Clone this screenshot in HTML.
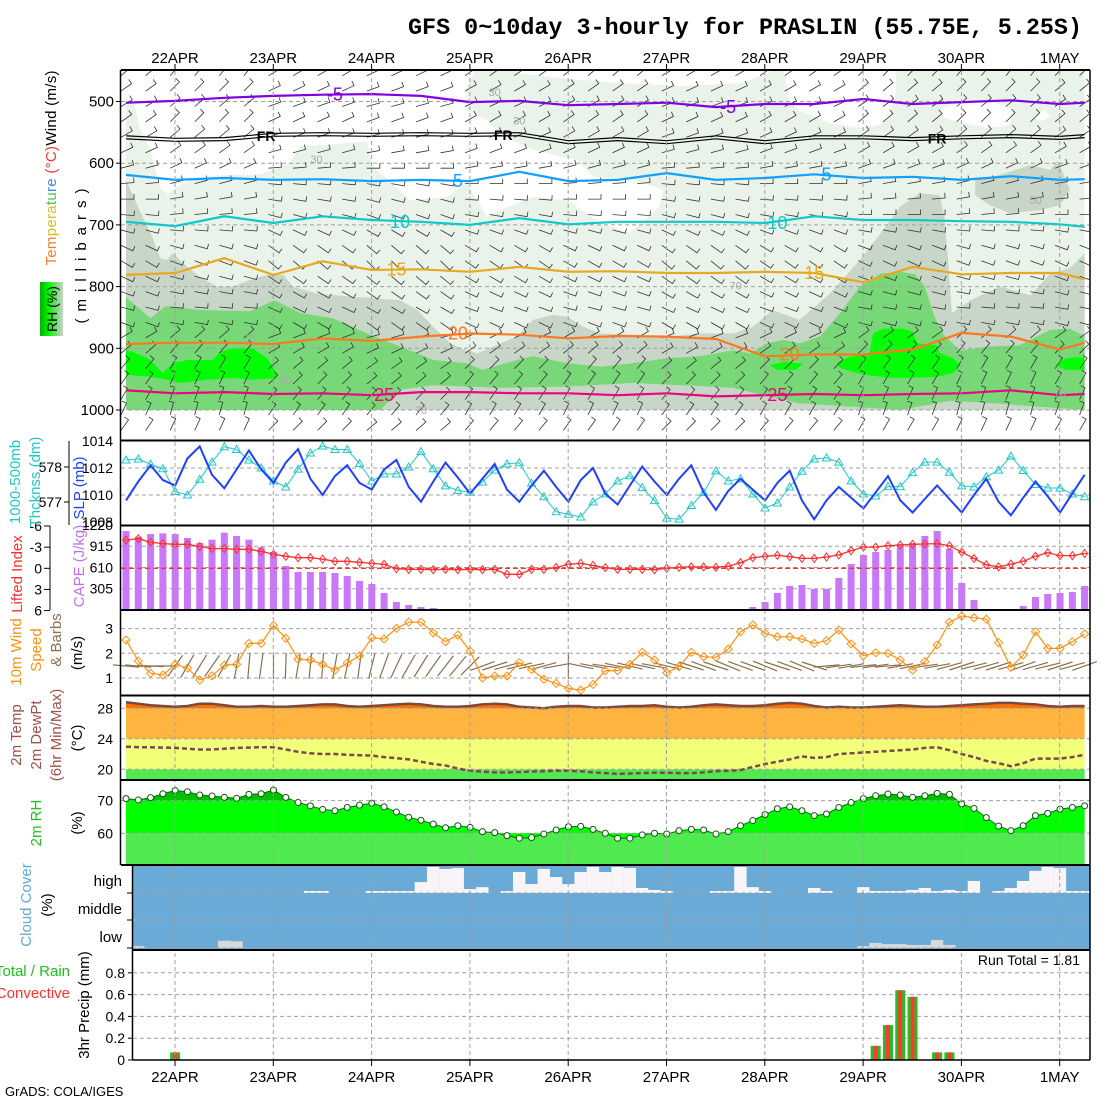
<!DOCTYPE html>
<html><head><meta charset="utf-8"><style>
html,body{margin:0;padding:0;background:#fff}
svg{display:block;font-family:"Liberation Sans",sans-serif}
</style></head><body>
<svg id="chart" width="1100" height="1100" viewBox="0 0 1100 1100" xmlns="http://www.w3.org/2000/svg">
<rect x="0" y="0" width="1100" height="1100" fill="#fff"/>
<defs><linearGradient id="rhg" x1="0" x2="1" y1="0" y2="0"><stop offset="0" stop-color="#00b000"/><stop offset="0.4" stop-color="#00ff00"/><stop offset="0.7" stop-color="#78d878"/><stop offset="1" stop-color="#c8d6c8"/></linearGradient>
<clipPath id="topclip"><rect x="121" y="71" width="968" height="368"/></clipPath>
<clipPath id="rh70"><rect x="120" y="780" width="970" height="20.6"/></clipPath></defs>
<text x="408" y="34" font-family="Liberation Mono, monospace" font-weight="bold" font-size="23" textLength="674" lengthAdjust="spacingAndGlyphs">GFS 0~10day 3-hourly for PRASLIN (55.75E, 5.25S)</text>
<g id="layers"></g>
<g id="labels" font-size="15">
 <text transform="translate(56,168) rotate(-90)" text-anchor="middle" textLength="195" lengthAdjust="spacing"><tspan fill="#f08030">Tem</tspan><tspan fill="#d8c020">pera</tspan><tspan fill="#50c050">tu</tspan><tspan fill="#4080ff">re</tspan><tspan fill="#ff3030"> (°C)</tspan><tspan fill="#000">Wind (m/s)</tspan></text>
 <text transform="translate(86,256) rotate(-90)" text-anchor="middle" textLength="135" lengthAdjust="spacing">(millibars)</text>
 <rect x="40" y="282" width="23" height="54" fill="url(#rhg)"/>
 <text transform="translate(57,309) rotate(-90)" text-anchor="middle" font-size="14">RH (%)</text>
 <text transform="translate(20,482) rotate(-90)" text-anchor="middle" fill="#20c8c8">1000-500mb</text>
 <text transform="translate(40,482) rotate(-90)" text-anchor="middle" fill="#20c8c8">Thcknss (dm)</text>
 <text transform="translate(84,488) rotate(-90)" text-anchor="middle" fill="#2040ff">SLP (mb)</text>
 <text transform="translate(22,574) rotate(-90)" text-anchor="middle" fill="#ff3030">Lifted Index</text>
 <text transform="translate(84,566) rotate(-90)" text-anchor="middle" fill="#c070f0">CAPE (J/kg)</text>
 <text transform="translate(21,652) rotate(-90)" text-anchor="middle" fill="#ff9010">10m Wind</text>
 <text transform="translate(41,650) rotate(-90)" text-anchor="middle" fill="#ff9010">Speed</text>
 <text transform="translate(61,640) rotate(-90)" text-anchor="middle" fill="#8a7050">&amp; Barbs</text>
 <text transform="translate(82,653) rotate(-90)" text-anchor="middle">(m/s)</text>
 <text transform="translate(21,735) rotate(-90)" text-anchor="middle" fill="#a05048">2m Temp</text>
 <text transform="translate(41,735) rotate(-90)" text-anchor="middle" fill="#a05048">2m DewPt</text>
 <text transform="translate(61,735) rotate(-90)" text-anchor="middle" fill="#a05048">(6hr Min/Max)</text>
 <text transform="translate(82,738) rotate(-90)" text-anchor="middle">(°C)</text>
 <text transform="translate(41,823) rotate(-90)" text-anchor="middle" fill="#20c020">2m RH</text>
 <text transform="translate(82,823) rotate(-90)" text-anchor="middle">(%)</text>
 <text transform="translate(31,905) rotate(-90)" text-anchor="middle" fill="#60a8d8">Cloud Cover</text>
 <text transform="translate(52,905) rotate(-90)" text-anchor="middle">(%)</text>
 <text x="122" y="886" text-anchor="end">high</text>
 <text x="122" y="914" text-anchor="end">middle</text>
 <text x="122" y="942" text-anchor="end">low</text>
 <text x="70" y="976" text-anchor="end" fill="#20c020">Total / Rain</text>
 <text x="70" y="998" text-anchor="end" fill="#ff3030">Convective</text>
 <text transform="translate(89,1005) rotate(-90)" text-anchor="middle">3hr Precip (mm)</text>
 <text x="1080" y="965" text-anchor="end" font-size="14">Run Total = 1.81</text>
 <text x="5" y="1096" font-size="13">GrADS: COLA/IGES</text>
</g>
</svg>
<script>
const dates=['22APR','23APR','24APR','25APR','26APR','27APR','28APR','29APR','30APR','1MAY'];
const slp=[1009.6,1011,1012.2,1011.1,1010.7,1012.7,1013.6,1011.5,1010.5,1011.9,1013.3,1011.9,1010.9,1012.4,1013.4,1011.2,1010.0,1011.4,1012.2,1010.9,1010.4,1011.9,1012.6,1010.6,1009.5,1011,1012.4,1011.3,1010.1,1011.2,1012.3,1010.4,1009.5,1010.7,1011.8,1010.6,1009.5,1011.1,1012,1010.1,1009.3,1010.7,1012.1,1011,1010.0,1011.2,1012.2,1010.2,1008.9,1010.3,1011.2,1010.4,1009.6,1010.9,1011.8,1009.6,1008.2,1009.6,1010.6,1009.8,1009.0,1010.2,1011.4,1009.6,1008.7,1009.7,1010.7,1009.7,1008.7,1010,1011.2,1009.5,1008.5,1009.8,1011,1009.9,1008.7,1010.1,1011.5];
const thick=[578.2,578.23,578.08,577.95,577.3,577.2,577.65,578.14,578.58,578.5,578.2,577.97,577.6,577.43,577.94,578.4,578.6,578.5,578.5,578.1,577.6,577.8,577.8,578.0,578.44,577.95,577.46,577.33,577.28,577.57,577.91,578.09,578.12,577.54,577.15,576.72,576.65,576.57,577.0,577.23,577.6,577.75,577.41,577.04,576.54,576.51,576.9,577.27,577.89,577.6,577.66,577.23,576.83,576.97,577.43,577.88,578.23,578.26,578.14,577.6,577.23,577.17,577.44,577.44,577.84,578.14,578.14,577.85,577.46,577.43,577.72,577.91,578.31,577.9,577.5,577.4,577.4,577.23,577.15];
const cape=[1133,1052,1090,1100,1090,1033,961,1009,1109,1062,1009,900,832,631,545,545,545,531,488,416,373,244,115,72,43,29,0,0,0,0,0,0,0,0,0,0,5,5,0,0,0,0,0,0,0,0,0,0,0,0,0,43,115,244,344,359,301,301,459,660,789,832,861,947,961,1062,1133,875,387,143,0,0,0,57,187,230,244,258,344];
const liftedIndex=[-4.0,-4.2,-3.7,-3.5,-3.4,-3.4,-3.1,-2.8,-2.8,-2.7,-2.7,-2.4,-2.0,-1.7,-1.5,-1.5,-1.3,-1.0,-1.0,-0.85,-0.7,-0.57,0.05,0.15,0.15,0.2,0.15,0.2,0.15,0.2,0.15,0.85,0.85,0.15,0.15,-0.1,-0.57,-0.7,-0.4,-0.1,0.15,0.15,0.15,0.2,0,-0.15,-0.2,-0.2,-0.15,-0.3,-0.8,-1.5,-1.7,-1.85,-1.65,-1.4,-1.4,-1.6,-1.9,-2.5,-3.0,-3.0,-3.2,-3.3,-3.4,-3.45,-3.5,-3.2,-2.3,-1.4,-0.5,-0.2,-0.6,-1.0,-1.7,-2.2,-1.8,-1.8,-2.1];
const windSpeed=[2.54,1.69,1.19,1.12,1.55,1.4,0.92,1.09,1.52,1.55,2.4,2.4,3.12,2.61,1.76,1.73,1.55,1.32,1.6,1.9,2.63,2.58,3.01,3.26,3.26,2.83,2.47,2.74,2.09,1.0,1.08,1.08,1.62,1.35,0.95,0.78,0.58,0.51,0.74,1.3,1.3,1.55,2.04,1.73,1.21,1.46,2.04,1.86,1.84,2.17,2.87,3.15,2.81,2.67,2.67,2.58,2.4,2.51,2.94,2.38,1.9,2.02,2.0,1.73,1.32,1.66,2.34,3.26,3.51,3.44,3.38,2.43,1.43,1.93,2.87,2.2,2.2,2.47,2.78];
const windAngle=[5,5,3,0,-55,-60,-58,-55,-60,-80,-85,-82,-90,-88,-80,-84,-86,-80,-78,-82,-76,-70,-65,-60,-58,-55,-52,-50,-45,-20,-18,-15,-14,-12,-15,-10,-90,12,10,8,12,14,12,10,14,16,18,20,18,22,20,20,22,18,20,22,18,-5,-8,-10,-6,-8,-5,-10,-12,-8,-10,-15,-18,-14,-16,-18,-15,-20,-16,-14,-18,-15,-20];
const tmax=[28.8,28.6,28.4,28.3,28.2,28.3,28.6,28.6,28.4,28.2,28.2,28.3,28.2,28.2,28.3,28.4,28.5,28.5,28.3,28.2,28.3,28.4,28.5,28.6,28.5,28.3,28.2,28.2,28.3,28.5,28.6,28.5,28.2,28.1,28.0,28.2,28.3,28.3,28.1,28.1,28.2,28.3,28.3,28.4,28.2,28.1,28.2,28.4,28.5,28.4,28.3,28.3,28.4,28.6,28.7,28.6,28.3,28.1,28.2,28.1,28.1,28.2,28.3,28.4,28.3,28.2,28.2,28.3,28.4,28.5,28.6,28.7,28.7,28.6,28.5,28.3,28.2,28.3,28.3];
const dewpt=[22.96,22.9,22.9,22.85,22.8,22.7,22.6,22.6,22.7,22.8,22.85,22.9,22.9,22.6,22.3,22.1,22.0,22.0,21.9,21.85,21.8,21.6,21.45,21.3,21.0,20.7,20.5,20.1,19.8,19.7,19.6,19.6,19.65,19.7,19.75,19.8,19.8,19.75,19.6,19.5,19.4,19.45,19.5,19.55,19.55,19.5,19.5,19.6,19.75,19.8,19.9,20.3,20.7,21.0,21.3,21.7,21.5,21.6,22.0,22.1,22.2,22.3,22.4,22.5,22.6,22.8,22.9,22.5,22.0,21.6,21.1,20.8,20.4,20.8,21.4,21.4,21.4,21.6,21.9];
const rh2m=[70.6,70.2,70.9,72.1,73.1,72.7,71.7,71.4,71.0,70.7,71.9,72.1,73.2,71.0,69.4,68.4,67.3,66.9,67.9,68.6,69.2,68.1,66.5,64.9,64.0,62.8,61.7,62.3,61.8,60.5,60.2,59.3,58.5,58.7,59.8,61.0,62.0,62.1,61.2,60.0,58.5,58.5,59.5,60.0,59.8,60.8,61.2,61.0,59.8,60.5,62.3,63.9,65.7,67.5,68.1,66.9,65.4,65.9,67.9,69.4,70.6,71.5,72.0,71.7,71.0,71.5,72.2,71.9,69.0,67.6,64.8,62.2,60.8,62.3,65.4,66.1,67.4,67.9,68.4];
const highClear=[0,0,0,0,0,0,0,0,0,0,0,0,0,0,7,7,0,0,0,7,7,7,7,39,93,86,89,14,21,0,7,75,32,86,57,32,75,93,75,93,89,18,11,7,0,0,0,7,7,93,21,7,0,0,0,18,7,0,0,21,7,7,7,11,18,7,11,7,43,0,7,18,43,79,93,89,7,7];
const lowCloud=[7,0,0,0,0,0,0,26,24,0,0,0,0,0,0,0,0,0,0,0,0,0,0,0,0,0,0,0,0,0,0,0,0,0,0,0,0,0,0,0,0,0,0,0,0,0,0,0,0,0,0,0,0,0,0,0,0,0,0,7,18,14,14,11,11,29,11,0,0,0,0,0,0,0,0,0,0,0];
const precipTotal=[0,0,0,0,0.07,0,0,0,0,0,0,0,0,0,0,0,0,0,0,0,0,0,0,0,0,0,0,0,0,0,0,0,0,0,0,0,0,0,0,0,0,0,0,0,0,0,0,0,0,0,0,0,0,0,0,0,0,0,0,0,0,0.13,0.32,0.64,0.58,0,0.07,0.07,0,0,0,0,0,0,0,0,0,0,0];
const precipConv=[0,0,0,0,0.07,0,0,0,0,0,0,0,0,0,0,0,0,0,0,0,0,0,0,0,0,0,0,0,0,0,0,0,0,0,0,0,0,0,0,0,0,0,0,0,0,0,0,0,0,0,0,0,0,0,0,0,0,0,0,0,0,0.13,0.32,0.64,0.58,0,0.07,0.07,0,0,0,0,0,0,0,0,0,0,0];
const contourIdx=[0,4,8,12,16,20,24,28,32,36,40,44,48,52,56,60,64,68,72,76,78];
const isoM5=[502,499,494,491,489,488,491,501,499,506,504,502,509,504,504,496,504,501,498,504,502];
const isoFR=[558,562,561,554,553,554,553,554,553,566,561,566,558,566,558,558,561,558,556,559,556];
const iso5=[619,627,624,627,626,629,627,629,614,629,627,616,627,624,618,624,622,627,621,627,626];
const iso10=[695,702,686,697,686,692,695,700,689,699,695,695,695,697,686,692,692,694,695,699,703];
const iso15=[781,778,754,781,759,773,772,776,768,776,775,778,778,776,778,793,768,780,778,778,788];
const iso20=[893,891,891,893,884,888,881,876,878,884,880,881,885,913,910,910,902,875,881,902,891];
const iso25=[968,973,971,974,973,976,971,971,973,973,976,973,978,976,974,976,974,973,968,976,974];
const rhGreyTop=[[0,627],[1.1,676],[2,713],[2.8,754],[3.3,757],[3.8,746],[5,768],[6,784],[7.4,800],[8.7,800],[10.1,789],[11.5,781],[12.8,781],[13.6,800],[15.5,811],[18.2,816],[22.3,822],[23.7,838],[25,865],[26.4,892],[27.7,903],[28.6,908],[29.9,897],[31.8,881],[33.1,854],[34.7,846],[35.9,849],[37.2,865],[38.6,876],[41.3,878],[44,881],[46.7,876],[49.4,876],[51,865],[52.6,838],[54.8,854],[57.3,811],[59.7,757],[61.4,714],[63,670],[64.6,649],[66.2,652],[66.6,687],[66.9,760],[67.2,843],[68.7,822],[71.1,800],[73.6,814],[75.2,779],[76.8,770],[78,746]];
const rhGreenTop=[[0,817],[2,851],[3.2,832],[6,838],[10.1,840],[12.1,822],[14.2,843],[16.8,851],[19.6,876],[22.3,897],[25,919],[27.7,924],[29,935],[31.8,919],[33.1,913],[35.9,924],[38.6,930],[41.3,924],[44,916],[46.7,913],[49.4,903],[50.8,908],[52.2,892],[53.5,886],[54.8,892],[56.5,880],[58.1,843],[59.7,800],[61.4,779],[63,776],[64.2,780],[65,800],[65.8,850],[66.6,880],[67.9,903],[70.3,897],[72.7,895],[75.2,870],[76.8,868],[78,880]];
const rhGreenBottom=[[78,1000],[71.1,990],[67.1,985],[63,1000],[54.8,989],[52.2,978],[49.4,964],[41.3,956],[35.9,962],[30.4,964],[25,960],[22.3,967],[20.7,1000],[0,1000]];
const rhWhite1=[[0,449],[0,500],[0.7,505],[1.1,540],[2,580],[2.8,640],[3.4,650],[4.4,635],[5.6,625],[7.2,620],[10.9,618],[13.3,600],[14.2,573],[19.6,565],[20.1,605],[23.1,660],[26.1,655],[27.7,632],[29.4,687],[30.4,676],[33.1,655],[35.9,660],[38.6,697],[41,713],[43.4,671],[43.7,643],[41.3,627],[38,622],[36.7,595],[33.1,578],[30.4,554],[29.4,530],[27.7,514],[27.7,477],[28.4,449]];
const rhWhite2=[[31.8,449],[32.1,455],[35.3,462],[40.2,470],[45.1,475],[50,470],[52.2,455],[52.6,449]];
const rhWhite3=[[53.5,449],[54,500],[54.8,515],[57.3,535],[59.7,543],[61.4,538],[62.2,522],[62.7,481],[62.6,449]];
const rhWhite4=[[66.2,514],[67.9,498],[70.3,498],[72.2,514],[71.9,538],[70.3,543],[68.7,538],[66.6,527]];
const rhWhite5=[[73.8,525],[74.8,513],[75.2,525],[74.4,532]];
const rhGreyPatch=[[69.1,627],[71.1,619],[73.6,603],[75.2,611],[75.8,595],[76.4,624],[76.8,643],[76,668],[74.4,676],[71.9,681],[70.3,668],[69.1,652]];
const rhWet1=[[0,903],[0.6,906],[2,919],[3,940],[3.8,924],[5,919],[7.1,919],[7.6,906],[8.7,900],[10.3,900],[11.5,916],[12.1,935],[12.3,948],[10.3,951],[8.7,948],[6.6,951],[4.4,956],[3.3,951],[2,946],[0,943]];
const rhWet2=[[60.8,876],[61.6,868],[63.2,868],[64,873],[64.4,892],[66,895],[66.2,908],[67.3,916],[67.9,927],[67.3,940],[66,946],[63.8,948],[62.2,948],[60,943],[58.1,932],[57.8,924],[58.9,914],[60.5,908]];
const rhWet3=[[52.4,928],[53.5,922],[55.1,925],[54.5,935],[53,935]];
const rhWet4=[[75.6,927],[76.5,916],[78,914],[78,935],[76.5,935]];
const barbLevels=[450,475,500,525,550,575,600,625,650,675,700,725,750,775,800,825,850,875,900,925,950,975,1000,1025];
const barbLevelAngle=[-40,-35,-30,-35,-30,-25,-15,-5,0,5,15,25,30,25,20,15,20,-30,-40,-50,-55,-60,-65,-55];
const barbDayShift=[0,-10,10,15,5,0,10,5,-5,-10,-5];

const NS='http://www.w3.org/2000/svg';
const L=document.getElementById('layers');
function X(i){return 126+i*12.29;}
function XD(k){return 175+k*98.3;}
function PY(p){return 101.5+(p-500)*0.617;}
function mk(tag,attrs,parent){const el=document.createElementNS(NS,tag);for(const k in attrs)el.setAttribute(k,attrs[k]);(parent||L).appendChild(el);return el;}
function poly(pts,fill,parent,name){const el=mk('polygon',{points:pts.map(q=>X(q[0]).toFixed(1)+','+PY(q[1]).toFixed(1)).join(' '),fill:fill},parent);


return el;}
const grid='#a0a0a0';

// ===== TOP PANEL =====
const topG=mk('g',{'clip-path':'url(#topclip)'});


mk('rect',{x:126,y:70,width:X(78)-126,height:PY(1000)-70,fill:'#e9f3e9'},topG);
[rhWhite1,rhWhite2,rhWhite3,rhWhite4,rhWhite5].forEach(w=>poly(w,'#fff',topG,'rh-dry-region'));
poly(rhGreyPatch,'#c8d6c8',topG,'rh-50-patch');
poly(rhGreyTop.concat([[78,1000],[0,1000]]),'#c8d6c8',topG,'rh-50-region');
poly(rhGreenTop.concat(rhGreenBottom),'#78d878',topG,'rh-70-region');
[rhWet1,rhWet2,rhWet3,rhWet4].forEach(w=>poly(w,'#00ff00',topG,'rh-90-region'));
for(let p=500;p<=1000;p+=100){mk('line',{x1:121,x2:1090,y1:PY(p),y2:PY(p),stroke:grid,'stroke-dasharray':'4,3'},topG);}
barbLevels.forEach((lev,li)=>{for(let i=0;i<=78;i+=2){
 const ang=(barbLevelAngle[li]+barbDayShift[Math.min(10,Math.floor((i*3+12)/24))])*Math.PI/180;
 const x=X(i)-5,y=PY(lev)+5,ex=x+13*Math.cos(ang),ey=y+13*Math.sin(ang);
 const b=mk('path',{d:`M${x.toFixed(1)},${y.toFixed(1)}L${ex.toFixed(1)},${ey.toFixed(1)}l${(5*Math.sin(ang)).toFixed(1)},${(-5*Math.cos(ang)).toFixed(1)}`,stroke:'#333',fill:'none','stroke-width':0.8},topG);
 
 
}});
const isos=[[isoM5,'#8000e0',-5],[isoFR,'#000',0],[iso5,'#10a0ff',5],[iso10,'#10c8c8',10],[iso15,'#e8a820',15],[iso20,'#ff7820',20],[iso25,'#f00080',25]];
isos.forEach(([arr,col,lev])=>{
 if(lev===0){[-1.5,1.5].forEach(o=>{const el=mk('polyline',{points:arr.map((p,k)=>X(contourIdx[k]).toFixed(1)+','+(PY(p)+o).toFixed(1)).join(' '),fill:'none',stroke:'#000','stroke-width':1.2},topG);
 
 });}
 else{const el=mk('polyline',{points:arr.map((p,k)=>X(contourIdx[k]).toFixed(1)+','+PY(p).toFixed(1)).join(' '),fill:'none',stroke:col,'stroke-width':2.2},topG);
 
 }
});
const isoLabels=[['-5','#8000e0',17,isoM5],['-5','#8000e0',49,isoM5],['FR','#000',11.4,isoFR],['FR','#000',30.7,isoFR],['FR','#000',66,isoFR],['5','#10a0ff',27,iso5],['5','#10a0ff',57,iso5],['10','#10c8c8',22.3,iso10],['10','#10c8c8',53,iso10],['15','#e8a820',22,iso15],['15','#e8a820',56,iso15],['20','#ff7820',27,iso20],['20','#ff7820',54,iso20],['25','#f00080',21,iso25],['25','#f00080',53,iso25]];
isoLabels.forEach(([t,c,i,arr])=>{const k=Math.min(arr.length-1,Math.round(i/4));const el=mk('text',{x:X(i),y:PY(arr[k])+6,fill:c,'font-size':t==='FR'?14:18,'font-weight':t==='FR'?'bold':'normal','text-anchor':'middle'},topG);el.textContent=t;

});
[['30',30,485],['30',32,531],['30',15.5,593],['70',10,883],['90',13,951],['70',24,1000],['50',74,660],['70',49.6,798],['70',76,972]].forEach(([t,i,p])=>{const el=mk('text',{x:X(i),y:PY(p)+4,fill:'#a8a8a8','font-size':11,'text-anchor':'middle'},topG);el.textContent=t;

});
for(let p=500;p<=1000;p+=100){const t=mk('text',{x:114,y:PY(p)+5,'text-anchor':'end','font-size':15});t.textContent=p;


mk('line',{x1:116,x2:121,y1:PY(p),y2:PY(p),stroke:'#000'});}

// ===== SLP / thickness =====
const SY=v=>468-(v-1012)*13.5, TY=v=>467-(v-578)*35;
[1012,1010].forEach(v=>mk('line',{x1:121,x2:1090,y1:SY(v),y2:SY(v),stroke:grid,'stroke-dasharray':'4,3'}));
[1014,1012,1010,1008].forEach(v=>{const t=mk('text',{x:113,y:SY(v)+5,'text-anchor':'end','font-size':14});t.textContent=v;

});
[578,577].forEach(v=>{const t=mk('text',{x:62,y:TY(v)+5,'text-anchor':'end','font-size':14});t.textContent=v;

mk('line',{x1:64,x2:69,y1:TY(v),y2:TY(v),stroke:'#000'});});
mk('line',{x1:69,x2:69,y1:441,y2:525,stroke:'#000'});
let e=mk('polyline',{points:thick.map((v,i)=>X(i).toFixed(1)+','+TY(v).toFixed(1)).join(' '),fill:'none',stroke:'#20c8c8','stroke-width':1});


thick.forEach((v,i)=>{const m=mk('path',{d:`M${X(i)-4},${TY(v)+3}h8l-4,-7z`,fill:'none',stroke:'#20c8c8'});

});
e=mk('polyline',{points:slp.map((v,i)=>X(i).toFixed(1)+','+SY(v).toFixed(1)).join(' '),fill:'none',stroke:'#2040ff','stroke-width':2});



// ===== CAPE / LI =====
const CY=v=>610-v*0.0697, LY=v=>568.3+v*7.05;
[915,610,305].forEach(v=>mk('line',{x1:121,x2:1090,y1:CY(v),y2:CY(v),stroke:grid,'stroke-dasharray':'4,3'}));
[1220,915,610,305].forEach(v=>{const t=mk('text',{x:113,y:CY(v)+5,'text-anchor':'end','font-size':14});t.textContent=v;

});
[-6,-3,0,3,6].forEach(v=>{const t=mk('text',{x:42,y:LY(v)+5,'text-anchor':'end','font-size':14});t.textContent=v;

mk('line',{x1:44,x2:50,y1:LY(v),y2:LY(v),stroke:'#000'});});
mk('line',{x1:50,x2:50,y1:526,y2:610,stroke:'#000'});
cape.forEach((v,i)=>{if(v<=0)return;const r=mk('rect',{x:X(i)-3.5,y:CY(v),width:7,height:610-CY(v),fill:'#c878f8'});

});
mk('line',{x1:121,x2:1090,y1:LY(0),y2:LY(0),stroke:'#ff3030','stroke-dasharray':'5,3','stroke-width':1.3});
e=mk('polyline',{points:liftedIndex.map((v,i)=>X(i).toFixed(1)+','+LY(v).toFixed(1)).join(' '),fill:'none',stroke:'#ff3030','stroke-width':1.3});


liftedIndex.forEach((v,i)=>{const m=mk('path',{d:`M${X(i)},${LY(v)-4}l3,4l-3,4l-3,-4z M${X(i)-4},${LY(v)}h8`,fill:'none',stroke:'#ff3030'});

});

// ===== 10m wind =====
const WY=v=>653.3-(v-2)*24.7;
[3,2,1].forEach(v=>{mk('line',{x1:121,x2:1090,y1:WY(v),y2:WY(v),stroke:grid,'stroke-dasharray':'4,3'});
const t=mk('text',{x:113,y:WY(v)+5,'text-anchor':'end','font-size':14});t.textContent=v;

});
windAngle.forEach((a,i)=>{const r=a*Math.PI/180,x=X(i),y=666,dx=13*Math.cos(r),dy=13*Math.sin(r);
const b=mk('path',{d:`M${(x-dx).toFixed(1)},${(y-dy).toFixed(1)}L${(x+dx).toFixed(1)},${(y+dy).toFixed(1)}`,stroke:'#8a7050',fill:'none','stroke-width':1.2});

});
e=mk('polyline',{points:windSpeed.map((v,i)=>X(i).toFixed(1)+','+WY(v).toFixed(1)).join(' '),fill:'none',stroke:'#ff9010','stroke-width':1.2});


windSpeed.forEach((v,i)=>{const m=mk('path',{d:`M${X(i)},${WY(v)-4}l4,4l-4,4l-4,-4z`,fill:'none',stroke:'#ff9010'});

});

// ===== temperature =====
const TTY=v=>769.3-(v-20)*7.63;
const xe=X(78);
mk('rect',{x:126,y:TTY(20),width:xe-126,height:780-TTY(20),fill:'#50ea50'});
mk('rect',{x:126,y:TTY(24),width:xe-126,height:TTY(20)-TTY(24),fill:'#f2ff78'});
mk('rect',{x:126,y:TTY(28),width:xe-126,height:TTY(24)-TTY(28),fill:'#ffb440'});
e=mk('polygon',{points:tmax.map((v,i)=>X(i).toFixed(1)+','+TTY(v).toFixed(1)).join(' ')+` ${xe},${TTY(28)} 126,${TTY(28)}`,fill:'#ff7000'});


e=mk('polyline',{points:tmax.map((v,i)=>X(i).toFixed(1)+','+TTY(v).toFixed(1)).join(' '),fill:'none',stroke:'#7a4a3a','stroke-width':2.5});


[28,24,20].forEach(v=>{mk('line',{x1:121,x2:1090,y1:TTY(v),y2:TTY(v),stroke:grid,'stroke-dasharray':'4,3'});
const t=mk('text',{x:113,y:TTY(v)+5,'text-anchor':'end','font-size':14});t.textContent=v;

});
e=mk('polyline',{points:dewpt.map((v,i)=>X(i).toFixed(1)+','+TTY(v).toFixed(1)).join(' '),fill:'none',stroke:'#7a4a4a','stroke-width':2.5,'stroke-dasharray':'5,3'});



// ===== RH =====
const RY=v=>833.3-(v-60)*3.27;
mk('rect',{x:126,y:RY(60),width:xe-126,height:865-RY(60),fill:'#50ea50'});
const rhPts=rh2m.map((v,i)=>X(i).toFixed(1)+','+RY(v).toFixed(1)).join(' ');
e=mk('polygon',{points:rhPts+` ${xe},${RY(60)} 126,${RY(60)}`,fill:'#00ff00'});


e=mk('polygon',{points:rhPts+` ${xe},${RY(60)} 126,${RY(60)}`,fill:'#00c000','clip-path':'url(#rh70)'});


e=mk('polyline',{points:rhPts,fill:'none',stroke:'#007000','stroke-width':1});


[70,60].forEach(v=>{mk('line',{x1:121,x2:1090,y1:RY(v),y2:RY(v),stroke:grid,'stroke-dasharray':'4,3'});
const t=mk('text',{x:113,y:RY(v)+5,'text-anchor':'end','font-size':14});t.textContent=v;

});
rh2m.forEach((v,i)=>{const m=mk('circle',{cx:X(i),cy:RY(v),r:3,fill:'#fff',stroke:'#006000'});

});

// ===== cloud =====
mk('rect',{x:132,y:865,width:958,height:85,fill:'#6aaad6'});
highClear.forEach((v,k)=>{if(v<=0)return;const h=v/100*28;const r=mk('rect',{x:132+k*12.29,y:893-h,width:12.4,height:h,fill:'#f8f4f8'});

});
lowCloud.forEach((v,k)=>{if(v<=0)return;const h=v/100*28;const r=mk('rect',{x:132+k*12.29,y:948-h,width:12.4,height:h,fill:'#d8d8d8'});

});
[893,920,948].forEach(y=>{mk('line',{x1:132,x2:1090,y1:y,y2:y,stroke:grid,'stroke-dasharray':'4,3'});mk('line',{x1:127,x2:132,y1:y,y2:y,stroke:'#000'});});

// ===== precip =====
const PPY=v=>1060-v*109;
[0.2,0.4,0.6,0.8].forEach(v=>mk('line',{x1:133,x2:1090,y1:PPY(v),y2:PPY(v),stroke:grid,'stroke-dasharray':'4,3'}));
['0','0.2','0.4','0.6','0.8'].forEach(s=>{const v=parseFloat(s);const t=mk('text',{x:125,y:PPY(v)+5,'text-anchor':'end','font-size':14});t.textContent=s;

mk('line',{x1:128,x2:133,y1:PPY(v),y2:PPY(v),stroke:'#000'});});
precipTotal.forEach((v,i)=>{if(v<=0)return;
const g=mk('rect',{x:X(i)-5,y:PPY(v),width:10,height:1060-PPY(v),fill:'#20c020'});


const c=precipConv[i];const r=mk('rect',{x:X(i)-2,y:PPY(c),width:4,height:1060-PPY(c),fill:'#ff3838'});

});

// ===== date grid & labels =====
dates.forEach((d,k)=>{const x=XD(k);
 mk('line',{x1:x,x2:x,y1:71,y2:1060,stroke:grid,'stroke-dasharray':'4,3'});
 const a=mk('text',{x:x,y:63,'text-anchor':'middle','font-size':15});a.textContent=d;
 
 
 const b=mk('text',{x:x,y:1082,'text-anchor':'middle','font-size':15});b.textContent=d;
 
 
 mk('line',{x1:x,x2:x,y1:64,y2:70,stroke:'#000'});mk('line',{x1:x,x2:x,y1:1060,y2:1066,stroke:'#000'});
});

// ===== frames =====
[70,440.5,525.5,610,695.5,780,865,950,1060].forEach(y=>mk('line',{x1:y>=950?133:121,x2:1090,y1:y,y2:y,stroke:'#000','stroke-width':y===1060?1.5:2}));
mk('line',{x1:120.5,x2:120.5,y1:70,y2:865,stroke:'#000','stroke-width':1.5});
mk('line',{x1:132.5,x2:132.5,y1:865,y2:1060,stroke:'#000','stroke-width':1.5});
mk('line',{x1:1090,x2:1090,y1:70,y2:1060,stroke:'#000','stroke-width':1.5});
</script>
</body></html>
